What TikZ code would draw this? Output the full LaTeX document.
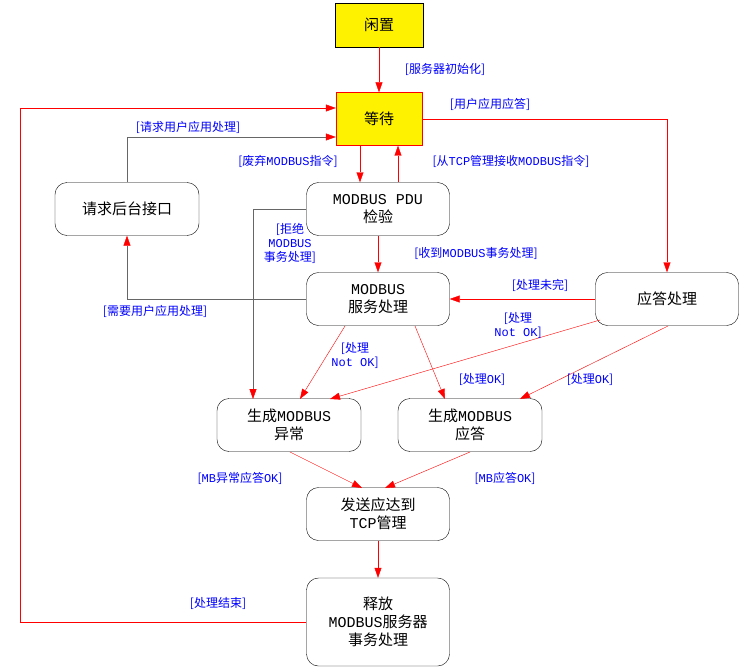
\documentclass[tikz,border=0pt]{standalone}
\usepackage{fontspec}
\setmainfont{Noto Sans CJK SC}
\setmonofont{Liberation Mono}
\usetikzlibrary{arrows.meta}
\newcommand{\M}[1]{\texttt{#1}}
\begin{document}
\begin{tikzpicture}[x=1pt,y=-1pt,
  st/.style={draw,rounded corners=12pt,minimum width=143pt,minimum height=53pt,align=center,font=\fontsize{15}{18}\selectfont},
  ys/.style={draw=red,fill=yellow,minimum width=86pt,minimum height=50pt,font=\fontsize{15}{18}\selectfont},
  ar/.style={red,-{Triangle[length=10pt,width=7pt]}},
  gr/.style={draw=gray!80!black,-{Triangle[length=10pt,width=7pt,color=red,fill=red]}},
  lb/.style={text=blue,font=\fontsize{12}{14}\selectfont,align=center,inner sep=1pt}]
\useasboundingbox (0,0) rectangle (743,671);
\node[ys,draw=black,minimum height=44pt,minimum width=88pt] (idle) at (379,25) {闲置};
\node[ys,minimum height=53pt] (wait) at (379,119) {等待};
\node[st] (pdu) at (378,209) {\M{MODBUS PDU}\\检验};
\node[st,minimum width=144pt] (req) at (127,209) {请求后台接口};
\node[st] (svc) at (378,299) {\M{MODBUS}\\服务处理};
\node[st] (resp) at (667,299) {应答处理};
\node[st,minimum width=144pt] (exc) at (289,425) {生成\M{MODBUS}\\异常};
\node[st,minimum width=144pt] (ans) at (470,425) {生成\M{MODBUS}\\应答};
\node[st] (send) at (378,514) {发送应达到\\\M{TCP}管理};
\node[st,minimum height=88pt] (rel) at (378,622) {释放\\\M{MODBUS}服务器\\事务处理};

\draw[ar] (idle) -- (wait);
\node[lb] at (445,69) {[服务器初始化]};
\draw[ar] (wait.south -| 360,0) -- (pdu.north -| 360,0);
\draw[ar] (pdu.north -| 398,0) -- (wait.south -| 398,0);
\node[lb] at (288,161) {[废弃\M{MODBUS}指令]};
\draw[ar] (wait.east) -| (resp.north);
\node[lb] at (490,104) {[用户应用应答]};
\node[lb] at (511,161) {[从\M{TCP}管理接收\M{MODBUS}指令]};
\draw[gr] (req.north) |- (wait.west |- 0,137);
\node[lb] at (188,127) {[请求用户应用处理]};
\draw[gr] (svc.west) -| (req.south);
\node[lb] at (155,311) {[需要用户应用处理]};
\draw[ar] (rel.west) -- (20,622) -- (20,108) -- (wait.west |- 0,108);
\node[lb] at (218,603) {[处理结束]};
\draw[ar] (pdu) -- (svc);
\node[lb] at (476,253) {[收到\M{MODBUS}事务处理]};
\draw[gr] (pdu.west |- 0,209) -| (253,399);
\node[lb] at (290,243) {[拒绝\\\M{MODBUS}\\事务处理]};
\draw[ar] (resp.west) -- (svc.east);
\node[lb] at (540,285) {[处理未完]};
\draw[ar] (345,326) -- (300,399);
\node[lb] at (355,355) {[处理\\\M{Not OK}]};
\draw[ar] (415,326) -- (445,399);
\node[lb] at (482,379) {[处理\M{OK}]};
\draw[ar] (600,320) -- (330,399);
\node[lb] at (518,325) {[处理\\\M{Not OK}]};
\draw[ar] (668,326) -- (520,399);
\node[lb] at (590,379) {[处理\M{OK}]};
\draw[ar] (290,452) -- (362,488);
\node[lb] at (240,478) {[\M{MB}异常应答\M{OK}]};
\draw[ar] (470,452) -- (385,488);
\node[lb] at (505,478) {[\M{MB}应答\M{OK}]};
\draw[ar] (send) -- (rel);
\end{tikzpicture}
\end{document}
